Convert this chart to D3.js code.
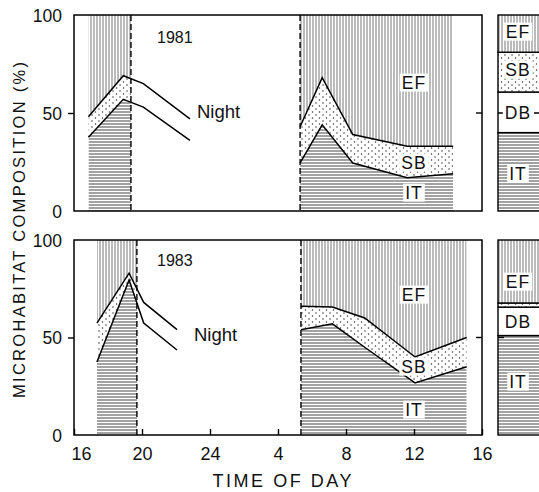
<!DOCTYPE html>
<html lang="en">
<head>
<meta charset="UTF-8" />
<title>Microhabitat composition</title>
<script src="https://cdn.jsdelivr.net/npm/d3@7/dist/d3.min.js"></script>
<style>
body { margin: 0; background: #fff; }
svg { display: block; font-family: "Liberation Sans", Arial, sans-serif; }
</style>
</head>
<body>
<svg id="chart" width="539" height="492"></svg>
<script>
// hours run 16 -> 40 (16h next day)
const tickHours = [16, 20, 24, 28, 32, 36, 40];
const tickLabels = ["16", "20", "24", "4", "8", "12", "16"];
const yTicks = [0, 50, 100];
const keys = ["IT", "SB", "EF"];

// 1981
const hours81Eve = [16.85, 18.9, 20.08, 22.82];
const it81Eve = [37.6, 57, 53, 36];
const sb81Eve = [10.5, 12, 12, 11];
const ef81Eve = [51.9, 31, 35, 53];
const hours81Morn = [29.3, 30.6, 32.4, 35.6, 38.3];
const it81Morn = [24.5, 44, 24.5, 17, 19];
const sb81Morn = [18.5, 24, 14.5, 16, 14];
const ef81Morn = [57, 32, 61, 67, 67];
const sunset81 = 19.35, sunrise81 = 29.3;

// 1983
const hours83Eve = [17.35, 19.24, 20.1, 22.06];
const it83Eve = [37.4, 79.5, 57.4, 43.6];
const sb83Eve = [20, 3.5, 10.6, 10.4];
const ef83Eve = [42.6, 17, 32, 46];
const hours83Morn = [29.35, 31.2, 33.1, 36.06, 39.1];
const it83Morn = [54, 57, 45, 26.7, 35];
const sb83Morn = [12, 8.6, 15, 13.3, 15];
const ef83Morn = [34, 34.4, 40, 60, 50];
const sunset83 = 19.7, sunrise83 = 29.35;

// overall composition bars (IT, DB, SB, EF)
const barKeys = ["IT", "DB", "SB", "EF"];
const bar81 = [40, 20.7, 20.3, 19];
const bar83 = [51, 14.6, 2.1, 32.3];

const svg = d3.select("#chart");
const x = d3.scaleLinear().domain([16, 40]).range([74, 482]);

const defs = svg.append("defs");
const pH = defs.append("pattern").attr("id", "pIT").attr("patternUnits", "userSpaceOnUse")
  .attr("width", 4).attr("height", 3);
pH.append("rect").attr("width", 4).attr("height", 3).attr("fill", "#fff");
pH.append("line").attr("x1", 0).attr("x2", 4).attr("y1", 1).attr("y2", 1)
  .attr("stroke", "#555").attr("stroke-width", 1.1);
const pV = defs.append("pattern").attr("id", "pEF").attr("patternUnits", "userSpaceOnUse")
  .attr("width", 3).attr("height", 4);
pV.append("rect").attr("width", 3).attr("height", 4).attr("fill", "#fff");
pV.append("line").attr("x1", 1).attr("x2", 1).attr("y1", 0).attr("y2", 4)
  .attr("stroke", "#777").attr("stroke-width", 1);
const pD = defs.append("pattern").attr("id", "pSB").attr("patternUnits", "userSpaceOnUse")
  .attr("width", 7).attr("height", 6);
pD.append("rect").attr("width", 7).attr("height", 6).attr("fill", "#fff");
pD.append("circle").attr("cx", 1).attr("cy", 1).attr("r", 0.75).attr("fill", "#333");
pD.append("circle").attr("cx", 4.5).attr("cy", 4).attr("r", 0.75).attr("fill", "#333");
const fills = { IT: "url(#pIT)", SB: "url(#pSB)", EF: "url(#pEF)", DB: "#fff" };

function toRows(hours, it, sb, ef) {
  return hours.map((h, i) => ({ h: h, IT: it[i], SB: sb[i], EF: ef[i] }));
}

const panels = [
  { id: "p81", year: "1981", y: d3.scaleLinear().domain([0, 100]).range([211, 15]),
    eve: toRows(hours81Eve, it81Eve, sb81Eve, ef81Eve),
    morn: toRows(hours81Morn, it81Morn, sb81Morn, ef81Morn),
    sunset: sunset81, sunrise: sunrise81, bar: bar81, xTicks: false,
    night: [197, 113], yearPos: [157, 43],
    labels: [["EF", 414, 84], ["SB", 414, 164], ["IT", 414, 194]],
    barLabels: { EF: 33, SB: 71, DB: 114, IT: 175 } },
  { id: "p83", year: "1983", y: d3.scaleLinear().domain([0, 100]).range([435, 240]),
    eve: toRows(hours83Eve, it83Eve, sb83Eve, ef83Eve),
    morn: toRows(hours83Morn, it83Morn, sb83Morn, ef83Morn),
    sunset: sunset83, sunrise: sunrise83, bar: bar83, xTicks: true,
    night: [194, 336], yearPos: [157, 266],
    labels: [["EF", 414, 296], ["SB", 414, 368], ["IT", 414, 411]],
    barLabels: { EF: 283, DB: 323, IT: 383 } }
];

const stack = d3.stack().keys(keys);

function labelBox(g, txt, cx, cy, size) {
  const t = g.append("text").attr("x", cx).attr("y", cy)
    .attr("text-anchor", "middle").attr("dominant-baseline", "middle")
    .attr("font-size", size).attr("letter-spacing", 1).attr("fill", "#111").text(txt);
  const b = t.node().getBBox();
  g.insert("rect", function() { return t.node(); })
    .attr("x", b.x - 2).attr("y", b.y + 1).attr("width", b.width + 4).attr("height", b.height - 2)
    .attr("fill", "#fff");
}

panels.forEach(p => {
  const y = p.y;
  const g = svg.append("g");
  const x0 = x.range()[0], x1 = x.range()[1];

  // hatched areas, clipped to daylight
  [["eve", p.eve[0].h, p.sunset], ["morn", p.sunrise, p.morn[p.morn.length - 1].h]].forEach(([k, a, b]) => {
    const rows = p[k];
    const clipId = p.id + k;
    defs.append("clipPath").attr("id", clipId).append("rect")
      .attr("x", x(a)).attr("y", y(100)).attr("width", x(b) - x(a)).attr("height", y(0) - y(100));
    const series = stack(rows);
    const area = d3.area().x(d => x(d.data.h)).y0(d => y(d[0])).y1(d => y(d[1]));
    g.append("g").attr("clip-path", `url(#${clipId})`).selectAll("path")
      .data(series).join("path")
      .attr("d", area).attr("fill", d => fills[d.key]).attr("stroke", "none");
    const line = d3.line().x(d => x(d.data.h)).y(d => y(d[1]));
    g.selectAll(null).data(series.slice(0, 2)).join("path")
      .attr("d", line).attr("fill", "none").attr("stroke", "#000").attr("stroke-width", 1.5);
  });

  // sunset / sunrise
  g.selectAll(null).data([p.sunset, p.sunrise]).join("line")
    .attr("x1", d => x(d)).attr("x2", d => x(d)).attr("y1", y(100)).attr("y2", y(0))
    .attr("stroke", "#000").attr("stroke-width", 1.4).attr("stroke-dasharray", "6,3");

  // frame
  g.append("rect").attr("x", x0).attr("y", y(100)).attr("width", x1 - x0).attr("height", y(0) - y(100))
    .attr("fill", "none").attr("stroke", "#000").attr("stroke-width", 1.5);

  // left axis
  const ax = g.append("g").attr("transform", `translate(${x0},0)`)
    .call(d3.axisLeft(y).tickValues(yTicks).tickSize(6).tickPadding(6));
  ax.select(".domain").remove();
  ax.selectAll(".tick line").attr("stroke-width", 1.4).filter(d => d !== 50).remove();
  ax.selectAll(".tick text").attr("font-size", 17.5).attr("fill", "#111").attr("dy", "0.35em");

  // right inner tick
  g.append("line").attr("x1", x1 - 6).attr("x2", x1).attr("y1", y(50)).attr("y2", y(50))
    .attr("stroke", "#000").attr("stroke-width", 1.4);

  if (p.xTicks) {
    const bx = g.append("g").attr("transform", `translate(0,${y(0)})`)
      .call(d3.axisBottom(x).tickValues(tickHours).tickFormat((d, i) => tickLabels[i])
        .tickSizeInner(-6).tickSizeOuter(0).tickPadding(12));
    bx.select(".domain").remove();
    bx.selectAll(".tick line").attr("stroke-width", 1.4);
    bx.selectAll(".tick text").attr("font-size", 18).attr("fill", "#111");
    bx.selectAll(".tick").filter(d => d === 16).select("text").attr("dx", 7);
  }

  g.append("text").attr("x", p.yearPos[0]).attr("y", p.yearPos[1])
    .attr("font-size", 16).attr("fill", "#111").text(p.year);
  g.append("text").attr("x", p.night[0]).attr("y", p.night[1]).attr("dominant-baseline", "middle")
    .attr("font-size", 18.5).attr("fill", "#111").text("Night");
  p.labels.forEach(([t, cx, cy]) => labelBox(g, t, cx, cy, 17.5));

  // composition bar
  const bx0 = 498, bw = 70;
  let acc = 0;
  const segs = p.bar.map((v, i) => { const s = { key: barKeys[i], y0: acc, y1: acc + v }; acc += v; return s; });
  g.selectAll(null).data(segs).join("rect")
    .attr("x", bx0).attr("width", bw).attr("y", d => y(d.y1)).attr("height", d => y(d.y0) - y(d.y1))
    .attr("fill", d => fills[d.key]).attr("stroke", "#000").attr("stroke-width", 1.4);
  g.append("line").attr("x1", bx0).attr("x2", bx0 + bw).attr("y1", y(50)).attr("y2", y(50))
    .attr("stroke", "#000").attr("stroke-width", 1.4)
    .attr("stroke-dasharray", p.id === "p81" ? "6,30,6" : "6,100");
  Object.keys(p.barLabels).forEach(k => labelBox(g, k, 518, p.barLabels[k], 17.5));
});

svg.append("text").attr("transform", "translate(25,230) rotate(-90)")
  .attr("text-anchor", "middle").attr("font-size", 16.5).attr("fill", "#111")
  .attr("textLength", 336).attr("lengthAdjust", "spacing")
  .text("MICROHABITAT COMPOSITION (%)");
svg.append("text").attr("x", 282).attr("y", 487).attr("text-anchor", "middle")
  .attr("font-size", 18).attr("fill", "#111")
  .attr("textLength", 139).attr("lengthAdjust", "spacing")
  .text("TIME OF DAY");
</script>
</body>
</html>
